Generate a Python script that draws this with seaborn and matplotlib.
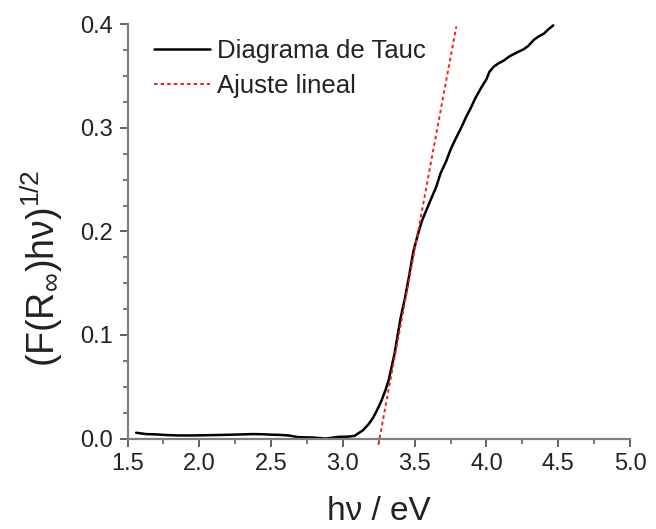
import numpy as np
import pandas as pd
import matplotlib
matplotlib.use("Agg")
import matplotlib.pyplot as plt
from matplotlib.ticker import MultipleLocator
import seaborn as sns

# Tauc curve
tauc_x = [1.56, 1.63, 1.70, 1.77, 1.85, 1.95, 2.05, 2.19, 2.30, 2.37, 2.45, 2.49,
          2.56, 2.62, 2.69, 2.79, 2.88, 2.97, 3.03, 3.08, 3.14, 3.18, 3.21, 3.24,
          3.27, 3.30, 3.32, 3.36, 3.40, 3.43, 3.46, 3.49, 3.52, 3.55, 3.58, 3.61,
          3.65, 3.68, 3.72, 3.75, 3.78, 3.82, 3.86, 3.89, 3.92, 3.96, 4.00, 4.02,
          4.05, 4.08, 4.12, 4.16, 4.20, 4.23, 4.26, 4.29, 4.31, 4.33, 4.36, 4.40,
          4.43, 4.465]
tauc_y = [0.0056, 0.0043, 0.0040, 0.0034, 0.0030, 0.0030, 0.0032, 0.0036, 0.0040,
          0.0043, 0.0041, 0.0038, 0.0035, 0.0030, 0.0013, 0.0010, 0.0000, 0.0016,
          0.0018, 0.0025, 0.0080, 0.0140, 0.0200, 0.0280, 0.0370, 0.0480, 0.0570,
          0.0820, 0.1150, 0.1340, 0.1560, 0.1800, 0.1960, 0.2100, 0.2200, 0.2300,
          0.2430, 0.2560, 0.2680, 0.2790, 0.2880, 0.2990, 0.3110, 0.3190, 0.3280,
          0.3380, 0.3470, 0.3540, 0.3590, 0.3620, 0.3650, 0.3690, 0.3720, 0.3740,
          0.3760, 0.3790, 0.3820, 0.3850, 0.3880, 0.3910, 0.3950, 0.3990]

# Linear fit line
fit_x = [3.247, 3.79]
fit_y = [-0.006, 0.398]

x_ticks = [1.5, 2.0, 2.5, 3.0, 3.5, 4.0, 4.5, 5.0]
y_ticks = [0.0, 0.1, 0.2, 0.3, 0.4]

label_tauc = "Diagrama de Tauc"
label_fit = "Ajuste lineal"

sns.set_theme(style="ticks")
plt.rcParams["font.family"] = ["Liberation Sans", "DejaVu Sans"]
plt.rcParams["mathtext.fontset"] = "custom"
plt.rcParams["mathtext.rm"] = "Liberation Sans"
plt.rcParams["mathtext.it"] = "Liberation Sans:italic"
plt.rcParams["mathtext.bf"] = "Liberation Sans:bold"

fig = plt.figure(figsize=(6.56, 5.29), dpi=100)
ax = fig.add_axes([0.1944, 0.171, 0.766, 0.783])

df_t = pd.DataFrame({"x": tauc_x, "y": tauc_y})
df_f = pd.DataFrame({"x": fit_x, "y": fit_y})

sns.lineplot(data=df_t, x="x", y="y", ax=ax, color="black", lw=1.8,
             label=label_tauc, sort=False, estimator=None)
sns.lineplot(data=df_f, x="x", y="y", ax=ax, color="#ff1a1a", lw=1.4,
             label=label_fit, sort=False, estimator=None)
ax.lines[1].set_dashes((1.8, 1.6))
ax.lines[1].set_clip_on(False)

ax.set_xlim(1.5, 5.0)
ax.set_ylim(0.0, 0.4)
ax.set_xticks(x_ticks)
ax.set_yticks(y_ticks)
ax.set_xticklabels([f"{v:.1f}" for v in x_ticks])
ax.set_yticklabels([f"{v:.1f}" for v in y_ticks])
ax.xaxis.set_minor_locator(MultipleLocator(0.25))
ax.yaxis.set_minor_locator(MultipleLocator(0.025))

for s in ["top", "right"]:
    ax.spines[s].set_visible(False)
for s in ["left", "bottom"]:
    ax.spines[s].set_color("#808080")
    ax.spines[s].set_linewidth(1.6)

ax.tick_params(which="major", direction="out", length=5.5, width=1.4,
               color="#606060", labelsize=17, labelcolor="#222222", pad=5)
ax.tick_params(which="minor", direction="out", length=3.5, width=1.2,
               color="#606060")

ax.set_xlabel("h\u03bd / eV", fontsize=24, labelpad=15, color="#222222")
ax.set_ylabel("(F(R$_{\\infty}$)h\u03bd)$^{1/2}$", fontsize=27,
              color="#222222")
ax.yaxis.set_label_coords(-0.125, 0.41)

leg = ax.legend(loc="upper left", bbox_to_anchor=(0.033, 0.99), frameon=False,
                fontsize=18.5, handlelength=2.15, handletextpad=0.27,
                labelspacing=0.42, borderaxespad=0.0)
for t in leg.get_texts():
    t.set_color("#222222")

fig.savefig("out.png", dpi=100)
